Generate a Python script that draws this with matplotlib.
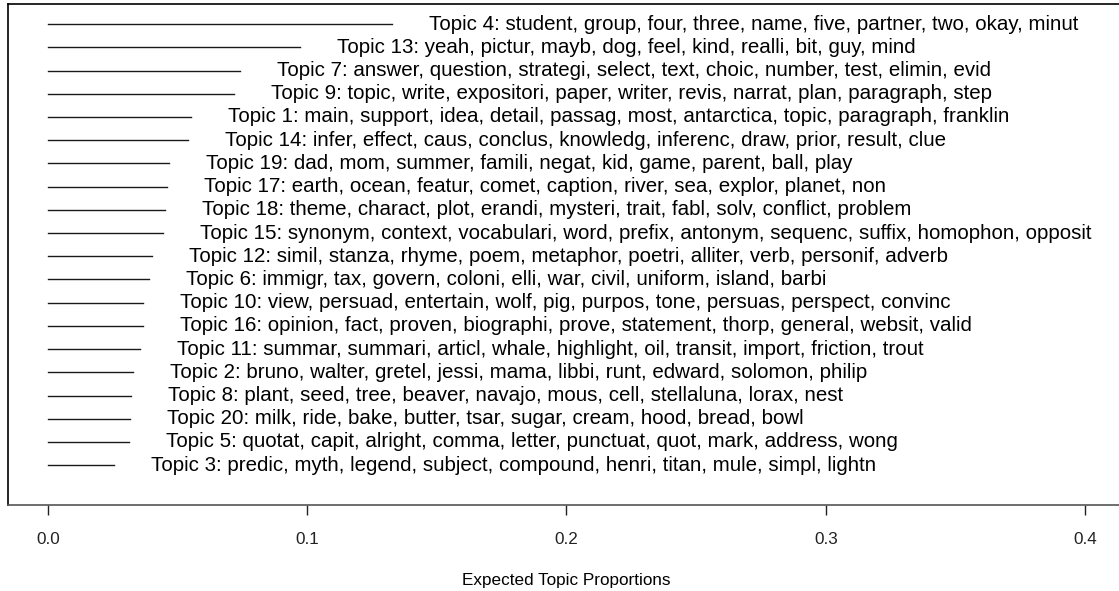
import matplotlib
matplotlib.use("Agg")
import matplotlib.pyplot as plt

# topics listed top to bottom, as in the reference
topic_labels = [
	"Topic 4: student, group, four, three, name, five, partner, two, okay, minut",
	"Topic 13: yeah, pictur, mayb, dog, feel, kind, realli, bit, guy, mind",
	"Topic 7: answer, question, strategi, select, text, choic, number, test, elimin, evid",
	"Topic 9: topic, write, expositori, paper, writer, revis, narrat, plan, paragraph, step",
	"Topic 1: main, support, idea, detail, passag, most, antarctica, topic, paragraph, franklin",
	"Topic 14: infer, effect, caus, conclus, knowledg, inferenc, draw, prior, result, clue",
	"Topic 19: dad, mom, summer, famili, negat, kid, game, parent, ball, play",
	"Topic 17: earth, ocean, featur, comet, caption, river, sea, explor, planet, non",
	"Topic 18: theme, charact, plot, erandi, mysteri, trait, fabl, solv, conflict, problem",
	"Topic 15: synonym, context, vocabulari, word, prefix, antonym, sequenc, suffix, homophon, opposit",
	"Topic 12: simil, stanza, rhyme, poem, metaphor, poetri, alliter, verb, personif, adverb",
	"Topic 6: immigr, tax, govern, coloni, elli, war, civil, uniform, island, barbi",
	"Topic 10: view, persuad, entertain, wolf, pig, purpos, tone, persuas, perspect, convinc",
	"Topic 16: opinion, fact, proven, biographi, prove, statement, thorp, general, websit, valid",
	"Topic 11: summar, summari, articl, whale, highlight, oil, transit, import, friction, trout",
	"Topic 2: bruno, walter, gretel, jessi, mama, libbi, runt, edward, solomon, philip",
	"Topic 8: plant, seed, tree, beaver, navajo, mous, cell, stellaluna, lorax, nest",
	"Topic 20: milk, ride, bake, butter, tsar, sugar, cream, hood, bread, bowl",
	"Topic 5: quotat, capit, alright, comma, letter, punctuat, quot, mark, address, wong",
	"Topic 3: predic, myth, legend, subject, compound, henri, titan, mule, simpl, lightn",
]

proportions = [
	0.1327, 0.0972, 0.0740, 0.0717, 0.0551, 0.0540, 0.0467, 0.0459, 0.0451, 0.0443,
	0.0401, 0.0390, 0.0366, 0.0366, 0.0355, 0.0328, 0.0320, 0.0316, 0.0312, 0.0255,
]

x_ticks = [0.0, 0.1, 0.2, 0.3, 0.4]
x_label = "Expected Topic Proportions"

plt.rcParams["font.family"] = ["Liberation Sans", "DejaVu Sans"]

fig = plt.figure(figsize=(11.19, 5.91), dpi=100)
# right edge of the box falls just outside the picture, as in the reference
ax = fig.add_axes([8 / 1119, 86 / 591, 1117 / 1119, 501 / 591])

n_topics = len(topic_labels)

for index, (label, value) in enumerate(zip(topic_labels, proportions)):
	y = n_topics - index
	ax.plot([0, value], [y, y], color="#1a1a1a", linewidth=1.0)
	ax.text(
		value + 0.0143,
		y,
		label,
		ha="left",
		va="center",
		fontsize=14.8,
		color="black"
	)

ax.set_xlim(-0.0154, 0.4154)
ax.set_ylim(-0.714, n_topics + 0.866)

ax.set_yticks([])
ax.set_xticks(x_ticks)
ax.set_xticklabels([f"{tick:.1f}" for tick in x_ticks])
ax.tick_params(axis="x", direction="out", length=7.2, width=1, pad=12, labelsize=12.3, colors="#222222")
ax.set_xlabel(x_label, fontsize=12.3, labelpad=19)

for spine in ax.spines.values():
	spine.set_linewidth(1.2)
	spine.set_color("black")
ax.spines["bottom"].set_color("#555555")

fig.savefig("out.png", dpi=100)
